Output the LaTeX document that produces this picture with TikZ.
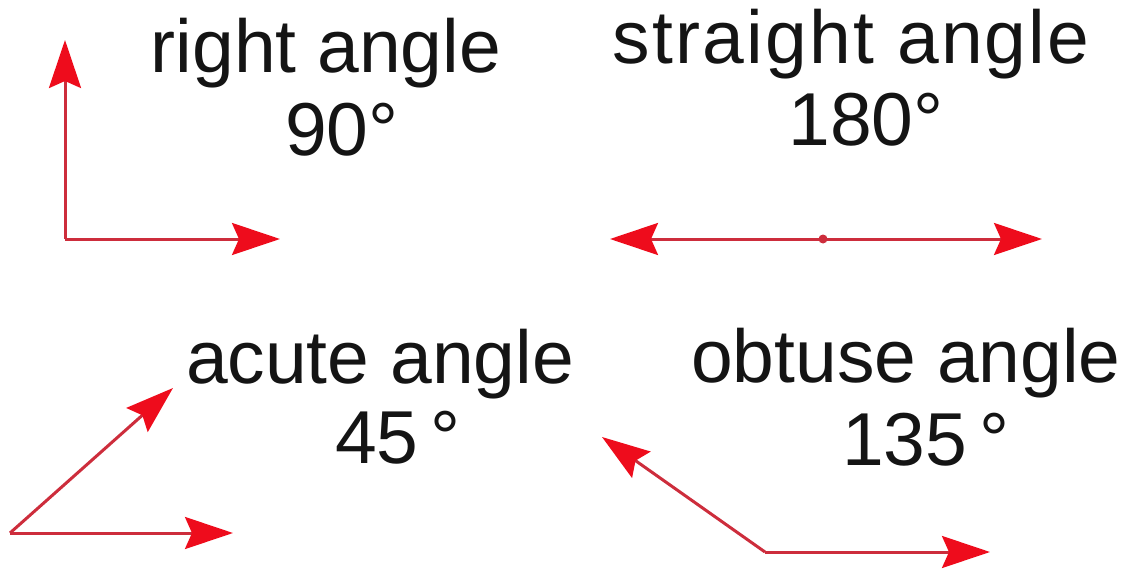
\documentclass[tikz,border=0pt]{standalone}
\usepackage{fontspec}
\setmainfont{Liberation Sans}
\usetikzlibrary{arrows.meta}
\definecolor{linered}{RGB}{205,45,60}
\definecolor{headred}{RGB}{238,12,28}
\definecolor{inkblack}{RGB}{20,20,20}
\tikzset{
  ray/.style={draw=linered, line width=3pt,
    -{Stealth[length=48pt,width=32pt,inset=7pt,color=headred]}},
  lbl/.style={anchor=base, inner sep=0pt, text=inkblack,
    font=\fontsize{75}{80}\selectfont}
}
\begin{document}
\begin{tikzpicture}[x=1pt,y=-1pt]
\useasboundingbox (0,0) rectangle (1136,570);
% right angle
\coordinate (rv) at (65,239);
\coordinate (ru) at (65,40);
\coordinate (rr) at (280,239);
\draw[ray] (rv) -- (ru);
\draw[ray] (rv) -- (rr);
\node[lbl] (rtxt) at (326,72) {right angle};
\node[lbl] (rdeg) at (342,155) {90°};
% straight angle
\coordinate (sv) at (823,239);
\coordinate (sl) at (610,239);
\coordinate (sr) at (1042,239);
\draw[ray] (sv) -- (sl);
\draw[ray] (sv) -- (sr);
\fill[linered] (sv) circle (4.5pt);
\node[lbl] (stxt) at (851,63) {\addfontfeature{LetterSpace=3}straight angle};
\node[lbl] (sdeg) at (866,145) {180°};
% acute angle
\coordinate (av) at (10,533);
\coordinate (au) at (173,388);
\coordinate (ar) at (233,533);
\draw[ray] (av) -- (au);
\draw[ray] (av) -- (ar);
\node[lbl] (atxt) at (380,383) {acute angle};
\node[lbl] (adeg) at (398,463) {45\,°};
% obtuse angle
\coordinate (ov) at (765,552);
\coordinate (ol) at (602,437);
\coordinate (or) at (990,552);
\draw[ray] (ov) -- (ol);
\draw[ray] (ov) -- (or);
\node[lbl] (otxt) at (906,382) {obtuse angle};
\node[lbl] (odeg) at (926,465) {135\,°};
\end{tikzpicture}
\end{document}
